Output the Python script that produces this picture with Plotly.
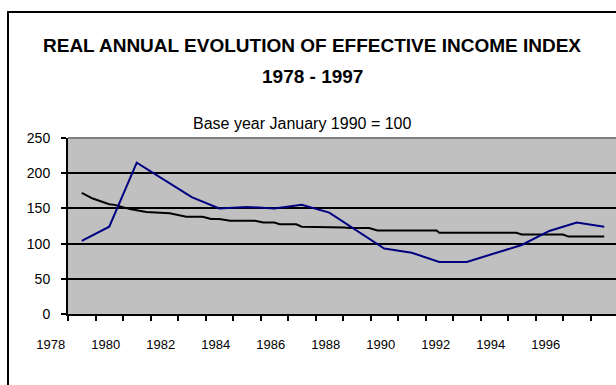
import plotly.graph_objects as go

# Annual effective income index (base: January 1990 = 100)
years = list(range(1978, 1998))
income_index = [104, 124, 215, 191, 166, 150, 152, 150, 155, 144,
                119, 93, 87, 74, 74, 86, 98, 118, 130, 124]

# Long-run trend line (fractional years, stepwise decline)
trend_time = [1978.0, 1978.4, 1979.0, 1979.2, 1979.75, 1980.35, 1981.2, 1981.8,
              1982.4, 1982.7, 1983.0, 1983.4, 1984.3, 1984.6, 1985.0, 1985.2,
              1985.8, 1986.0, 1987.55, 1987.75, 1988.45, 1988.75, 1990.9, 1991.0,
              1993.8, 1994.0, 1995.5, 1995.7, 1997.0]
trend_index = [172, 164, 156, 155, 149, 145, 143, 138,
               138, 135, 135, 132.5, 132.5, 130, 130, 127.5,
               127.5, 124, 123, 122, 122, 118.5, 118.5, 115.5,
               115.5, 113, 113, 110, 110]

# Axis labels every second year
label_years = list(range(1978, 1997, 2))
label_text = [str(y) for y in label_years]
y_ticks = [0, 50, 100, 150, 200, 250]

FONT = "Liberation Sans, Arial, sans-serif"

fig = go.Figure()
fig.add_trace(go.Scatter(x=trend_time, y=trend_index, mode="lines",
                         line=dict(color="#000000", width=2), hoverinfo="skip"))
fig.add_trace(go.Scatter(x=years, y=income_index, mode="lines",
                         line=dict(color="#000080", width=2), hoverinfo="skip"))

W, H = 616, 385
ml, mr, mt, mb = 68, 0, 138, 71
pw = W - ml - mr
cat_px = 27.5  # pixel width of one year

fig.update_layout(
    width=W, height=H,
    margin=dict(l=ml, r=mr, t=mt, b=mb),
    paper_bgcolor="#FFFFFF",
    plot_bgcolor="#C0C0C0",
    showlegend=False,
    font=dict(family=FONT, color="#000000", size=13),
    xaxis=dict(
        range=[1977.5, 1977.5 + pw / cat_px],
        tickmode="array", tickvals=label_years, ticktext=label_text,
        ticks="", showgrid=False, zeroline=False,
        ticklabelshift=-31, ticklabelstandoff=17,
        tickfont=dict(size=13, family=FONT),
        showline=True, linecolor="#000000", linewidth=2,
        minor=dict(tickmode="array", tickvals=[y - 0.5 for y in years] + [1997.5],
                   ticks="outside", ticklen=5, tickwidth=2, tickcolor="#000000",
                   showgrid=False),
    ),
    yaxis=dict(
        range=[0, 250], tickmode="array", tickvals=y_ticks,
        ticks="outside", ticklen=5, tickwidth=2, tickcolor="#000000",
        showgrid=True, gridcolor="#000000", gridwidth=2,
        zeroline=False, showline=True, linecolor="#000000", linewidth=2,
        tickfont=dict(size=14, family=FONT), ticklabelstandoff=8,
    ),
)

def px_x(p):
    return (p - ml) / pw

def px_y(p):
    return (H - mb - p) / (H - mt - mb)

# Chart frame (runs off the right and bottom edges) and plot-area top border
fig.add_shape(type="rect", xref="paper", yref="paper",
              x0=px_x(8), x1=px_x(W + 20), y0=px_y(H + 20), y1=px_y(12),
              line=dict(color="#000000", width=2), fillcolor="rgba(0,0,0,0)", layer="above")
fig.add_shape(type="line", xref="paper", yref="paper",
              x0=0, x1=1, y0=1, y1=1, line=dict(color="#808080", width=2))

for txt, cy in [("<b>REAL ANNUAL EVOLUTION OF EFFECTIVE INCOME INDEX</b>", 45),
                ("<b>1978 - 1997</b>", 76)]:
    fig.add_annotation(text=txt, xref="paper", yref="paper",
                       x=px_x(312), y=px_y(cy), xanchor="center", yanchor="middle",
                       showarrow=False, font=dict(size=19, family=FONT))
fig.add_annotation(text="Base year January 1990 = 100",
                   xref="paper", yref="paper", x=px_x(302), y=px_y(123),
                   xanchor="center", yanchor="middle",
                   showarrow=False, font=dict(size=16, family=FONT))

fig.write_html("out.html")
